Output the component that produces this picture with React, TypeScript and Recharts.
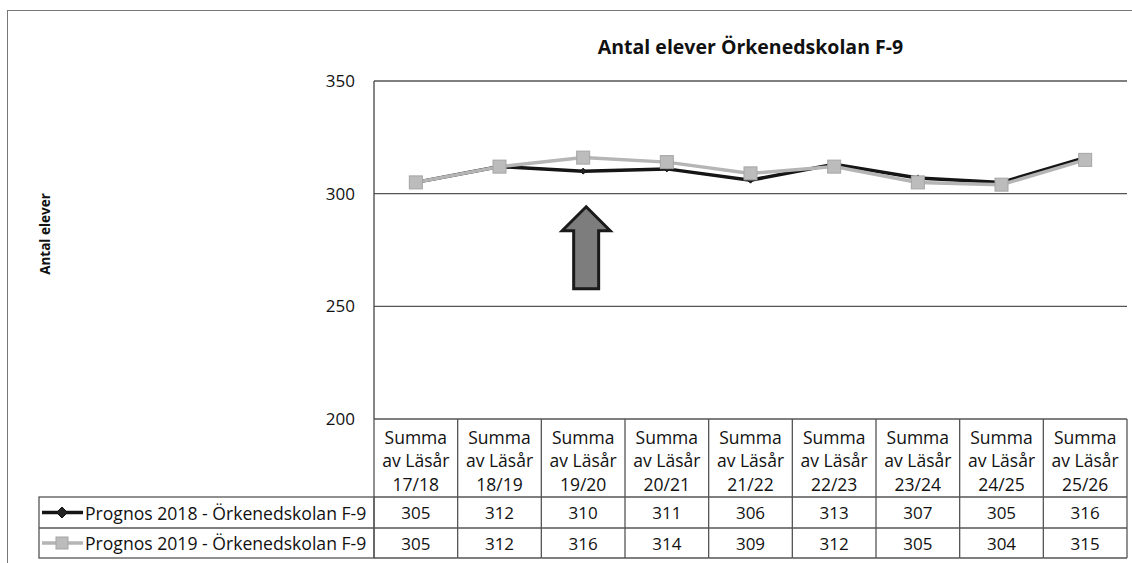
import React from 'react';
import { LineChart, Line, XAxis, YAxis, CartesianGrid, ReferenceDot } from 'recharts';

const categories = ['17/18', '18/19', '19/20', '20/21', '21/22', '22/23', '23/24', '24/25', '25/26'];
const prognos2018 = [305, 312, 310, 311, 306, 313, 307, 305, 316];
const prognos2019 = [305, 312, 316, 314, 309, 312, 305, 304, 315];
const seriesNames = ['Prognos 2018 - Örkenedskolan F-9', 'Prognos 2019 - Örkenedskolan F-9'];
const headerLines = ['Summa', 'av Läsår'];
const yTicks = [200, 250, 300, 350];
const chartTitle = 'Antal elever Örkenedskolan F-9';
const yAxisTitle = 'Antal elever';
const arrowCategory = '19/20';
const arrowCenterValue = 276;

const data = categories.map((c, i) => ({ cat: c, p2018: prognos2018[i], p2019: prognos2019[i] }));

const FONT = '"Open Sans", "Noto Sans", sans-serif';
const PLOT_LEFT = 374;
const PLOT_RIGHT = 1127;
const COL_W = (PLOT_RIGHT - PLOT_LEFT) / categories.length;
const LEGEND_LEFT = 39;
const HDR_H = 78;
const ROW1_H = 31;
const ROW2_H = 30;
const BORDER = '#555';
const BLACK_LINE = '#151515';
const GREY_LINE = '#b5b5b5';

function Diamond({ cx, cy, r = 6 }: any) {
  if (cx == null || cy == null) return null;
  return <polygon points={`${cx},${cy - r} ${cx + r},${cy} ${cx},${cy + r} ${cx - r},${cy}`} fill="#222" stroke="#111" strokeWidth={1} />;
}

function Square({ cx, cy, s = 13 }: any) {
  if (cx == null || cy == null) return null;
  return <rect x={cx - s / 2} y={cy - s / 2} width={s} height={s} fill="#bcbcbc" stroke="#a5a5a5" strokeWidth={1} />;
}

function TableTick(props: any) {
  const { x, y, payload, index } = props;
  const left = x - COL_W / 2;
  const r1 = y + HDR_H;
  const r2 = r1 + ROW1_H;
  const bottom = r2 + ROW2_H;
  const txt = { fontFamily: FONT, fill: '#111', textAnchor: 'middle' as const, dominantBaseline: 'central' as const };
  return (
    <g>
      {index === 0 && (
        <g>
          <line x1={left} y1={y} x2={left} y2={bottom} stroke={BORDER} strokeWidth={1.3} />
          <rect x={LEGEND_LEFT} y={r1} width={left - LEGEND_LEFT} height={ROW1_H + ROW2_H} fill="none" stroke={BORDER} strokeWidth={1.3} />
          <line x1={LEGEND_LEFT} y1={r2} x2={left} y2={r2} stroke={BORDER} strokeWidth={1.3} />
          <line x1={LEGEND_LEFT + 3} y1={r1 + ROW1_H / 2} x2={LEGEND_LEFT + 44} y2={r1 + ROW1_H / 2} stroke={BLACK_LINE} strokeWidth={3.5} />
          <Diamond cx={LEGEND_LEFT + 23} cy={r1 + ROW1_H / 2} r={5.5} />
          <text x={LEGEND_LEFT + 46} y={r1 + ROW1_H / 2} fontFamily={FONT} fontSize={17.6} fill="#111" dominantBaseline="central">{seriesNames[0]}</text>
          <line x1={LEGEND_LEFT + 3} y1={r2 + ROW2_H / 2} x2={LEGEND_LEFT + 44} y2={r2 + ROW2_H / 2} stroke={GREY_LINE} strokeWidth={3.5} />
          <Square cx={LEGEND_LEFT + 23} cy={r2 + ROW2_H / 2} s={12} />
          <text x={LEGEND_LEFT + 46} y={r2 + ROW2_H / 2} fontFamily={FONT} fontSize={17.6} fill="#111" dominantBaseline="central">{seriesNames[1]}</text>
        </g>
      )}
      <line x1={left + COL_W} y1={y} x2={left + COL_W} y2={bottom} stroke={BORDER} strokeWidth={1.3} />
      <line x1={left} y1={r1} x2={left + COL_W} y2={r1} stroke={BORDER} strokeWidth={1.3} />
      <line x1={left} y1={r2} x2={left + COL_W} y2={r2} stroke={BORDER} strokeWidth={1.3} />
      <line x1={left} y1={bottom} x2={left + COL_W} y2={bottom} stroke={BORDER} strokeWidth={1.3} />
      <text x={x} y={y + 18} fontSize={17.5} {...txt}>{headerLines[0]}</text>
      <text x={x} y={y + 41} fontSize={17.5} {...txt}>{headerLines[1]}</text>
      <text x={x} y={y + 65} fontSize={17.5} {...txt}>{payload.value}</text>
      <text x={x} y={r1 + ROW1_H / 2} fontSize={17} {...txt}>{prognos2018[index]}</text>
      <text x={x} y={r2 + ROW2_H / 2} fontSize={17} {...txt}>{prognos2019[index]}</text>
    </g>
  );
}

function UpArrow({ cx, cy }: any) {
  if (cx == null || cy == null) return null;
  const x = cx + 3;
  const pts = [
    [x, cy - 41],
    [x + 24, cy - 17],
    [x + 12.5, cy - 17],
    [x + 12.5, cy + 41],
    [x - 12.5, cy + 41],
    [x - 12.5, cy - 17],
    [x - 24, cy - 17],
  ].map((p) => p.join(',')).join(' ');
  return <polygon points={pts} fill="#7d7d7d" stroke="#1a1a1a" strokeWidth={3} strokeLinejoin="miter" />;
}

function YTitle(props: any) {
  const vb = props.viewBox || { x: 0, y: 81, width: 374, height: 338 };
  const x = vb.x + 45;
  const y = vb.y + vb.height / 2 - 16;
  return (
    <text x={x} y={y} transform={`rotate(-90, ${x}, ${y})`} textAnchor="middle" dominantBaseline="central" fontFamily={FONT} fontWeight={700} fontSize={13.5} fill="#111">
      {yAxisTitle}
    </text>
  );
}

export default function App() {
  return (
    <div style={{ position: 'absolute', left: 0, top: 0, width: 1132, height: 563, overflow: 'hidden', background: '#fff' }}>
      <div style={{ position: 'absolute', left: 7, top: 10, width: 1140, height: 600, border: '1.5px solid #777' }} />
      <div style={{ position: 'absolute', left: 374, width: 753, top: 33, textAlign: 'center', fontFamily: FONT, fontWeight: 700, fontSize: 19.5, color: '#111', lineHeight: '28px' }}>
        {chartTitle}
      </div>
      <div style={{ position: 'absolute', left: 0, top: 0 }}>
        <LineChart width={1132} height={563} data={data} margin={{ top: 81, right: 5, bottom: 0, left: 0 }}>
          <CartesianGrid vertical={false} stroke="#555" strokeWidth={1.3} />
          <XAxis
            dataKey="cat"
            height={144}
            interval={0}
            tickLine={false}
            axisLine={false}
            tickSize={0}
            tickMargin={0}
            padding={{ left: COL_W / 2, right: COL_W / 2 }}
            tick={<TableTick />}
          />
          <YAxis
            width={374}
            domain={[200, 350]}
            ticks={yTicks}
            tickLine={false}
            tickSize={0}
            tickMargin={19}
            axisLine={{ stroke: '#444', strokeWidth: 1.3 }}
            tick={{ fontFamily: FONT, fontSize: 17, fill: '#111' }}
            label={<YTitle />}
          />
          <ReferenceDot x={arrowCategory} y={arrowCenterValue} shape={<UpArrow />} isFront={false} />
          <Line
            type="linear"
            dataKey="p2018"
            stroke={BLACK_LINE}
            strokeWidth={3.5}
            dot={<Diamond />}
            activeDot={false}
            isAnimationActive={false}
          />
          <Line
            type="linear"
            dataKey="p2019"
            stroke={GREY_LINE}
            strokeWidth={3.5}
            dot={<Square />}
            activeDot={false}
            isAnimationActive={false}
          />
        </LineChart>
      </div>
    </div>
  );
}
